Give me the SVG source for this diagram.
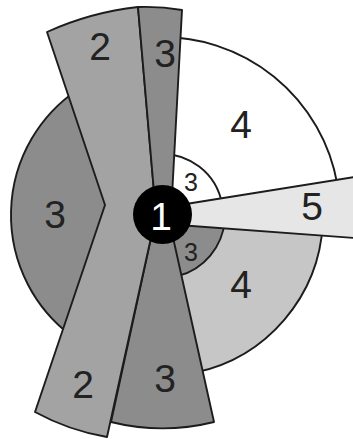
<svg xmlns="http://www.w3.org/2000/svg" width="353" height="439" viewBox="0 0 353 439">
<style>
.s{stroke:#1c1c1c;stroke-width:1.9;stroke-linejoin:round}
.w{fill:#ffffff}
.d{fill:#8c8c8c}
.m{fill:#a3a3a3}
.l{fill:#c6c6c6}
.x{fill:#e6e6e6}
.t{font-family:"Liberation Sans",Arial,sans-serif;font-size:39px;fill:#222;text-anchor:middle}
.ts{font-size:25px}
</style>
<rect width="353" height="439" fill="#ffffff"/>
<g id="n4a"><path class="s w" d="M162,215 L155.8,37.1 A178,178 0 0 1 337.3,184.1 Z"/><text class="t" x="241" y="138">4</text></g>
<g id="n4b"><path class="s l" d="M162,215 L322.8,223.4 A161,161 0 0 1 195.5,372.5 Z"/><text class="t" x="241" y="298">4</text></g>
<g id="n3left"><path class="s d" d="M162,215 L77.6,89.8 A151,151 0 0 0 71.1,335.6 Z"/><text class="t" x="55" y="228">3</text></g>
<g id="n3small1"><path class="s w" d="M162,215 L156.7,154.2 A61,61 0 0 1 222.1,204.4 Z"/><text class="t ts" x="191" y="191">3</text></g>
<g id="n3small2"><path class="s d" d="M162,215 L224.8,220.5 A63,63 0 0 1 178.3,275.9 Z"/><text class="t ts" x="191" y="261">3</text></g>
<g id="n5"><polygon class="s x" points="175,205.7 360,176.2 360,238.4 175,224.7"/><text class="t" x="312" y="220">5</text></g>
<g id="n3bottom"><path class="s d" d="M168,215 L214,422 A213,213 0 0 1 111,422 L156,215 Z"/><text class="t" x="165" y="392">3</text></g>
<g id="n2"><path class="s m" d="M47,32 A300,300 0 0 1 138,7 L156,215 L107,437 A230,230 0 0 1 35,412 L105,205 Z"/><text class="t" x="100" y="60">2</text><text class="t" x="83" y="398">2</text></g>
<g id="n3top"><path class="s d" d="M138,7 A207,207 0 0 1 182,10 L171,215 L156,215 Z"/><text class="t" x="165" y="67">3</text></g>
<g id="n1"><circle cx="162.5" cy="214.5" r="29.5" fill="#000"/><text class="t" x="161" y="230" style="fill:#fff">1</text></g>
</svg>
